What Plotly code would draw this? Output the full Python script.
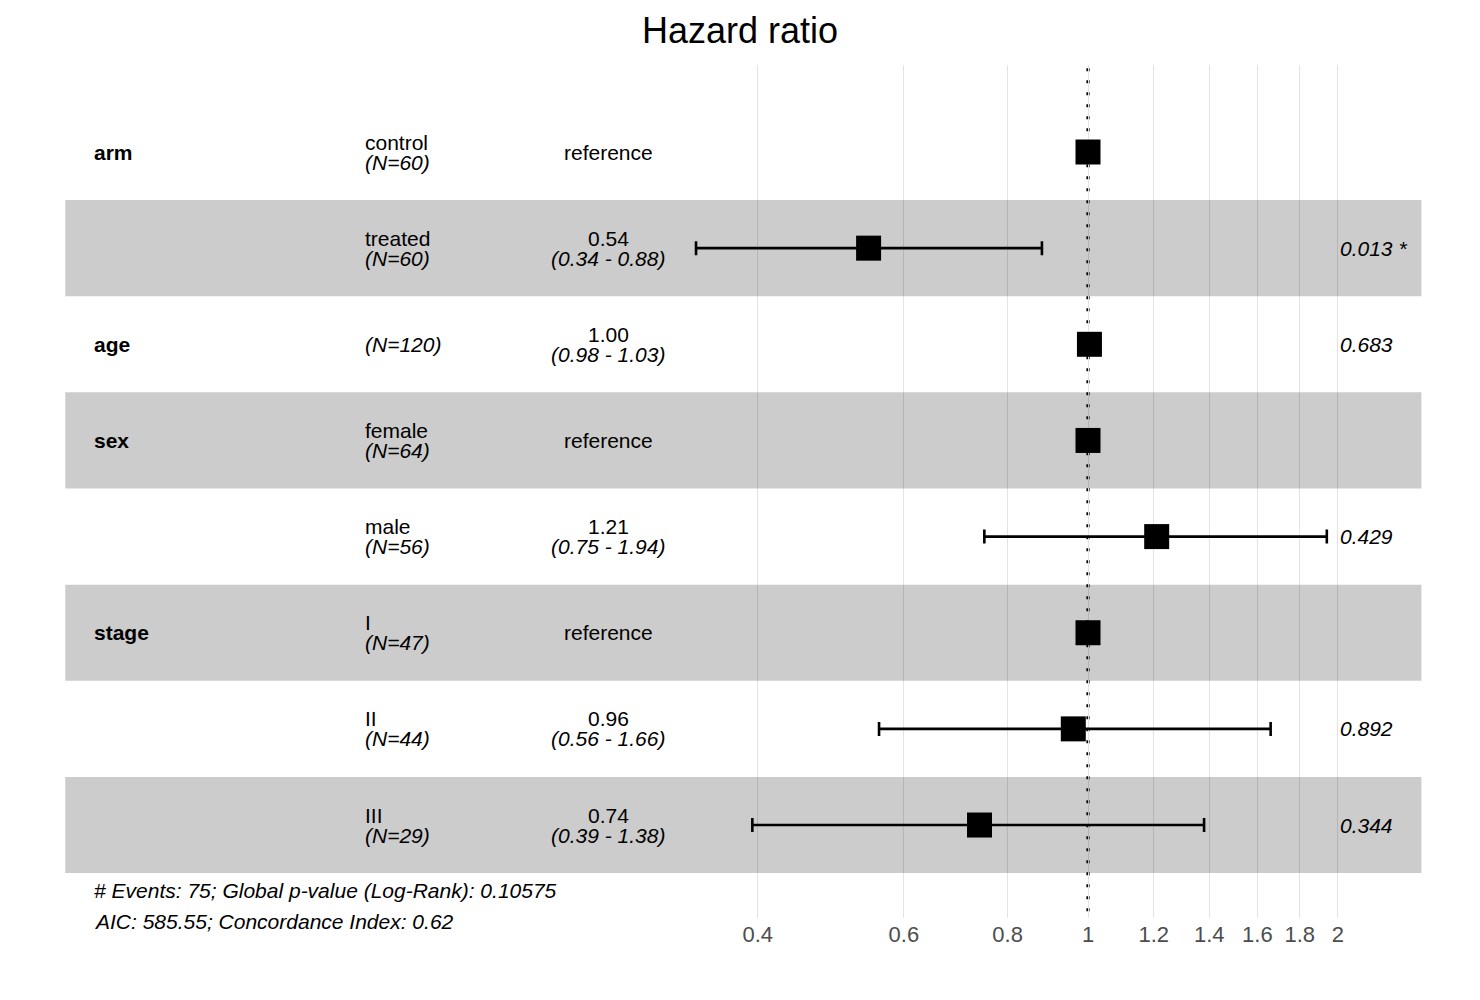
import math
import plotly.graph_objects as go

# ---- data ----
variables = ["arm", "", "age", "sex", "", "stage", "", ""]
levels = ["control", "treated", "", "female", "male", "I", "II", "III"]
n_obs = [60, 60, 120, 64, 56, 47, 44, 29]
estimate = [1.0, 0.544, 1.004, 1.0, 1.21, 1.0, 0.96, 0.74]
conf_low = [None, 0.337, 0.98, None, 0.75, None, 0.56, 0.394]
conf_high = [None, 0.88, 1.03, None, 1.94, None, 1.66, 1.38]
p_values = ["", "0.013 *", "0.683", "", "0.429", "", "0.892", "0.344"]
tick_vals = [0.4, 0.6, 0.8, 1, 1.2, 1.4, 1.6, 1.8, 2]
tick_text = ["0.4", "0.6", "0.8", "1", "1.2", "1.4", "1.6", "1.8", "2"]
footer_lines = ["# Events: 75; Global p-value (Log-Rank): 0.10575",
                "AIC: 585.55; Concordance Index: 0.62"]
title_text = "Hazard ratio"

W, H = 1480, 1000
TOP, BOTTOM = 65, 918
FONT = "Liberation Sans, Arial, Helvetica, sans-serif"
nrow = len(levels)
ypos = [nrow - i for i in range(nrow)]  # top row = nrow

# x-axis range (log10) so that the panel spans the full width
k = 580 / math.log(5)          # px per ln unit
x_left = math.log10(math.exp((0 - 1088) / k))
x_right = math.log10(math.exp((W - 1088) / k))

# stripe extent like ggforest
lows = [math.log(v) for v in conf_low if v is not None]
highs = [math.log(v) for v in conf_high if v is not None]
rb = (min(lows + highs), max(lows + highs))
drb = rb[1] - rb[0]
rp0 = rb[0] - drb
rp1 = rb[1] + 0.15 * drb

fig = go.Figure()

# CI bars
ci_idx = [i for i in range(nrow) if conf_low[i] is not None]
fig.add_trace(go.Scatter(
    x=[estimate[i] for i in ci_idx],
    y=[ypos[i] for i in ci_idx],
    mode="markers",
    marker=dict(size=1, color="rgba(0,0,0,0)"),
    error_x=dict(type="data", symmetric=False,
                 array=[conf_high[i] - estimate[i] for i in ci_idx],
                 arrayminus=[estimate[i] - conf_low[i] for i in ci_idx],
                 color="black", thickness=2.6, width=7),
    hoverinfo="skip", showlegend=False))

# point estimates
fig.add_trace(go.Scatter(
    x=estimate, y=ypos, mode="markers",
    marker=dict(symbol="square", size=25, color="black", line=dict(width=0)),
    showlegend=False))

shapes = []
for i in range(nrow):
    if i % 2 == 1:
        shapes.append(dict(type="rect", xref="x", yref="y",
                           x0=math.exp(rp0), x1=math.exp(rp1),
                           y0=ypos[i] - 0.5, y1=ypos[i] + 0.5,
                           fillcolor="rgba(0,0,0,0.2)", line=dict(width=0),
                           layer="between"))
shapes.append(dict(type="line", xref="x", yref="paper", x0=1, x1=1, y0=0.008, y1=1,
                   line=dict(color="black", width=3.2, dash="3px,9px"), layer="between"))

ann = []
def px(xp):
    return xp / W

def py(yp):
    return (BOTTOM - yp) / (BOTTOM - TOP)

F = dict(size=21, color="black", family=FONT)
for i in range(nrow):
    yc = ypos[i]
    if variables[i]:
        ann.append(dict(x=px(92), y=yc, xref="paper", yref="y", text="<b>" + variables[i] + "</b>",
                        xanchor="left", yanchor="middle", showarrow=False, font=F))
    if levels[i]:
        ann.append(dict(x=px(363), y=yc, xref="paper", yref="y", text=levels[i],
                        xanchor="left", yanchor="middle", yshift=10, showarrow=False, font=F))
        ann.append(dict(x=px(363), y=yc, xref="paper", yref="y", text="<i>(N=%d)</i>" % n_obs[i],
                        xanchor="left", yanchor="middle", yshift=-10, showarrow=False, font=F))
    else:
        ann.append(dict(x=px(363), y=yc, xref="paper", yref="y", text="<i>(N=%d)</i>" % n_obs[i],
                        xanchor="left", yanchor="middle", showarrow=False, font=F))
    if conf_low[i] is None:
        ann.append(dict(x=px(608), y=yc, xref="paper", yref="y", text="reference",
                        xanchor="center", yanchor="middle", showarrow=False, font=F))
    else:
        ann.append(dict(x=px(608), y=yc, xref="paper", yref="y", text="%.2f" % estimate[i],
                        xanchor="center", yanchor="middle", yshift=10, showarrow=False, font=F))
        ann.append(dict(x=px(608), y=yc, xref="paper", yref="y",
                        text="<i>(%.2f - %.2f)</i>" % (conf_low[i], conf_high[i]),
                        xanchor="center", yanchor="middle", yshift=-10, showarrow=False, font=F))
    if p_values[i]:
        ann.append(dict(x=px(1338), y=yc, xref="paper", yref="y", text="<i>" + p_values[i] + "</i>",
                        xanchor="left", yanchor="middle", showarrow=False, font=F))

for j, line in enumerate(footer_lines):
    ann.append(dict(x=px(92), y=py(890 + 31 * j), xref="paper", yref="paper",
                    text="<i>" + line + "</i>", xanchor="left", yanchor="middle",
                    showarrow=False, font=F))

fig.update_layout(
    width=W, height=H,
    paper_bgcolor="white", plot_bgcolor="white",
    margin=dict(l=0, r=0, t=TOP, b=H - BOTTOM),
    title=dict(text=title_text, x=0.5, xanchor="center", y=1 - 30 / H, yanchor="middle",
               font=dict(size=36, color="black", family=FONT)),
    xaxis=dict(type="log", range=[x_left, x_right], tickvals=tick_vals, ticktext=tick_text,
               showgrid=True, gridcolor="#E3E3E3", gridwidth=1.3, zeroline=False,
               showline=False, ticks="", ticklabelstandoff=1,
               tickfont=dict(size=22, color="#4D4D4D", family=FONT)),
    yaxis=dict(range=[0.033, 8.905], showgrid=False, zeroline=False, showline=False,
               showticklabels=False, ticks=""),
    shapes=shapes, annotations=ann, showlegend=False,
)

fig.write_html("out.html")
